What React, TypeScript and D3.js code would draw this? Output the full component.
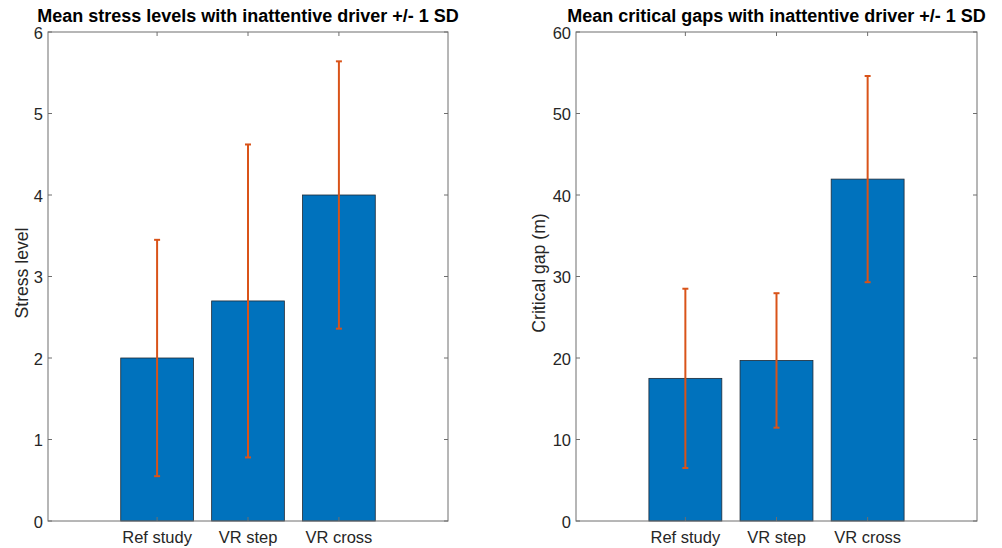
import React from 'react';
import { scaleLinear } from 'd3';

// data
const categories = ['Ref study', 'VR step', 'VR cross'];
const stressMean = [2.0, 2.7, 4.0];
const stressSD = [1.45, 1.92, 1.64];
const gapMean = [17.5, 19.7, 41.95];
const gapSD = [11.0, 8.25, 12.65];
const stressTicks = [0, 1, 2, 3, 4, 5, 6];
const gapTicks = [0, 10, 20, 30, 40, 50, 60];

const barColor = '#0072BD';
const errColor = '#D95319';
const axisColor = '#6e6e6e';
const font = '"Liberation Sans", Arial, Helvetica, sans-serif';

const W = 1002;
const H = 548;

const Panel = ({ left, right, title, ylabel, means, sds, ticks, yLabelX }) => {
	const top = 32;
	const bottom = 521;
	const x = scaleLinear().domain([-0.2, 4.2]).range([left, right]);
	const y = scaleLinear().domain([ticks[0], ticks[ticks.length - 1]]).range([bottom, top]);
	const bw = x(1.8) - x(1);
	const tl = 4;

	return (
		<g>
			<text
				x={(left + right) / 2}
				y={21.5}
				textAnchor="middle"
				fontFamily={font}
				fontWeight="bold"
				fontSize={18}
				fill="#000"
			>
				{title}
			</text>

			{means.map((m, i) => (
				<rect
					key={'b' + i}
					x={x(i + 1) - bw / 2}
					y={y(m)}
					width={bw}
					height={y(0) - y(m)}
					fill={barColor}
					stroke="#1f2a36"
					strokeWidth={0.8}
				/>
			))}

			{means.map((m, i) => {
				const cx = x(i + 1);
				const y1 = y(m - sds[i]);
				const y2 = y(m + sds[i]);
				return (
					<g key={'e' + i} stroke={errColor} strokeWidth={2}>
						<line x1={cx} x2={cx} y1={y1} y2={y2} />
						<line x1={cx - 3} x2={cx + 3} y1={y1} y2={y1} />
						<line x1={cx - 3} x2={cx + 3} y1={y2} y2={y2} />
					</g>
				);
			})}

			{/* box */}
			<rect
				x={left}
				y={top}
				width={right - left}
				height={bottom - top}
				fill="none"
				stroke={axisColor}
				strokeWidth={1}
			/>

			{ticks.map((t) => (
				<g key={'y' + t}>
					<line x1={left} x2={left + tl} y1={y(t)} y2={y(t)} stroke={axisColor} />
					<line x1={right} x2={right - tl} y1={y(t)} y2={y(t)} stroke={axisColor} />
					<text
						x={left - 5}
						y={y(t)}
						dy="0.4em"
						textAnchor="end"
						fontFamily={font}
						fontSize={16.5}
						fill="#262626"
					>
						{t}
					</text>
				</g>
			))}

			{categories.map((c, i) => (
				<g key={'x' + i}>
					<line x1={x(i + 1)} x2={x(i + 1)} y1={bottom} y2={bottom - tl} stroke={axisColor} />
					<line x1={x(i + 1)} x2={x(i + 1)} y1={top} y2={top + tl} stroke={axisColor} />
					<text
						x={x(i + 1)}
						y={543}
						textAnchor="middle"
						fontFamily={font}
						fontSize={16.5}
						fill="#262626"
					>
						{c}
					</text>
				</g>
			))}

			<text
				transform={'translate(' + yLabelX + ',273) rotate(-90)'}
				textAnchor="middle"
				fontFamily={font}
				fontSize={17.6}
				fill="#262626"
			>
				{ylabel}
			</text>
		</g>
	);
};

const App = () => {
	return (
		<svg
			width={W}
			height={H}
			style={{ position: 'absolute', left: 0, top: 0, background: '#fff' }}
		>
			<rect width={W} height={H} fill="#fff" />
			<Panel
				left={48}
				right={448}
				title="Mean stress levels with inattentive driver +/- 1 SD"
				ylabel="Stress level"
				means={stressMean}
				sds={stressSD}
				ticks={stressTicks}
				yLabelX={28}
			/>
			<Panel
				left={576}
				right={977}
				title="Mean critical gaps with inattentive driver +/- 1 SD"
				ylabel="Critical gap (m)"
				means={gapMean}
				sds={gapSD}
				ticks={gapTicks}
				yLabelX={545}
			/>
		</svg>
	);
};

export default App;
